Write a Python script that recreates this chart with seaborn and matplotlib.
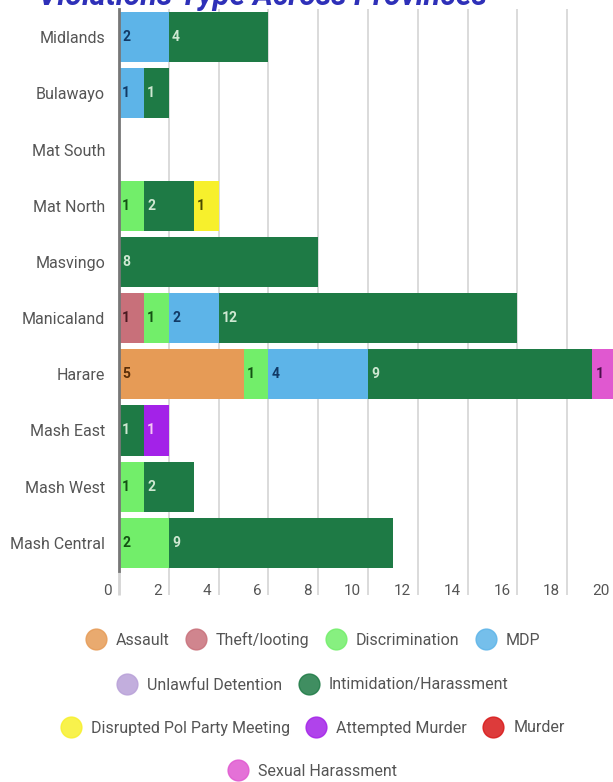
import matplotlib
matplotlib.use('Agg')
import matplotlib.pyplot as plt
import matplotlib.transforms as mtransforms
from matplotlib.lines import Line2D
import numpy as np
import pandas as pd
import seaborn as sns

sns.set_theme(style='white')
plt.rcParams['font.family'] = ['Roboto', 'DejaVu Sans']

provinces = ['Midlands', 'Bulawayo', 'Mat South', 'Mat North', 'Masvingo',
             'Manicaland', 'Harare', 'Mash East', 'Mash West', 'Mash Central']

violations = ['Assault', 'Theft/looting', 'Discrimination', 'MDP',
              'Unlawful Detention', 'Intimidation/Harassment',
              'Disrupted Pol Party Meeting', 'Attempted Murder', 'Murder',
              'Sexual Harassment']

assault = [0, 0, 0, 0, 0, 0, 5, 0, 0, 0]
theft = [0, 0, 0, 0, 0, 1, 0, 0, 0, 0]
discrimination = [0, 0, 0, 1, 0, 1, 1, 0, 1, 2]
mdp = [2, 1, 0, 0, 0, 2, 4, 0, 0, 0]
unlawful = [0, 0, 0, 0, 0, 0, 0, 0, 0, 0]
intimidation = [4, 1, 0, 2, 8, 12, 9, 1, 2, 9]
disrupted = [0, 0, 0, 1, 0, 0, 0, 0, 0, 0]
attempted = [0, 0, 0, 0, 0, 0, 0, 1, 0, 0]
murder = [0, 0, 0, 0, 0, 0, 0, 0, 0, 0]
sexual = [0, 0, 0, 0, 0, 0, 1, 0, 0, 0]

series = [assault, theft, discrimination, mdp, unlawful, intimidation,
          disrupted, attempted, murder, sexual]

colors = ['#E69B56', '#C8707A', '#72EE6A', '#5DB4E8', '#B8A0D8',
          '#1E7A45', '#F7F02C', '#A322E8', '#D81818', '#E058D0']
label_colors = ['#5a2e08', '#4a1a20', '#145214', '#123a66', '#3a2a5a',
                '#cfe8d2', '#4a4a00', '#f4c8f4', '#ffe0e0', '#4a104a']

df = pd.DataFrame(np.array(series).T, columns=violations)
df.insert(0, 'province', provinces)
cum = df[violations].cumsum(axis=1)

fig = plt.figure(figsize=(6.13, 7.82), dpi=100)
ax = fig.add_axes([119 / 613, 1 - 571 / 782, 498 / 613, 562 / 782])

# draw cumulative totals from the last series back to the first
for k in reversed(range(len(violations))):
    sns.barplot(x=cum[violations[k]], y=df['province'], orient='h',
                color=colors[k], saturation=1, width=0.89, linewidth=0,
                errorbar=None, ax=ax, zorder=2)

for k, name in enumerate(violations):
    starts = cum[name] - df[name]
    for i, v in enumerate(df[name]):
        if v > 0:
            ax.text(starts[i] + 0.13, i, str(v), va='center', ha='left',
                    fontsize=10, fontweight='bold', color=label_colors[k],
                    zorder=3)

ax.set_xlim(0, 20)
ax.set_ylim(len(provinces) - 0.5, -0.5)
ax.set_xticks(range(0, 21, 2))
ax.set_xlabel('')
ax.set_ylabel('')
ax.grid(axis='x', color='#d4d4d4', linewidth=1.2, zorder=0)
ax.set_axisbelow(True)
for s in ['top', 'right', 'bottom']:
    ax.spines[s].set_visible(False)
ax.spines['left'].set_color('#777777')
ax.spines['left'].set_linewidth(2)
ax.spines['left'].set_zorder(4)

ax.tick_params(axis='y', length=0, pad=10, labelsize=11.5, labelcolor='#555555')
ax.tick_params(axis='x', length=17, width=1.2, color='#d4d4d4', direction='out',
               pad=-7.5, labelsize=11, labelcolor='#555555', bottom=True)
ax.xaxis.get_major_ticks()[0].tick1line.set_color('#777777')
ax.xaxis.get_major_ticks()[0].tick1line.set_markeredgewidth(2)

offset = mtransforms.ScaledTranslation(-5 / 72, 0, fig.dpi_scale_trans)
for lab in ax.get_xticklabels():
    lab.set_ha('right')
    lab.set_transform(lab.get_transform() + offset)

fig.text(262 / 613, 1 - 5 / 782, 'Violations Type Across Provinces',
         ha='center', va='baseline', fontsize=22, fontweight='bold',
         fontstyle='italic', color='#2e30b8')

rows = [[0, 1, 2, 3], [4, 5], [6, 7, 8], [9]]
row_y = [640, 685, 728, 771]
for idx, y in zip(rows, row_y):
    handles = [Line2D([], [], marker='o', ls='', markersize=15,
                      markerfacecolor=colors[k], markeredgecolor=colors[k],
                      alpha=0.85) for k in idx]
    leg = fig.legend(handles, [violations[k] for k in idx], loc='center',
                     bbox_to_anchor=(0.51, 1 - y / 782), ncol=len(idx),
                     frameon=False, fontsize=11.5, handletextpad=0.6,
                     columnspacing=1.0, handlelength=1.3, borderpad=0)
    for t in leg.get_texts():
        t.set_color('#555555')

fig.savefig('out.png', dpi=100)
